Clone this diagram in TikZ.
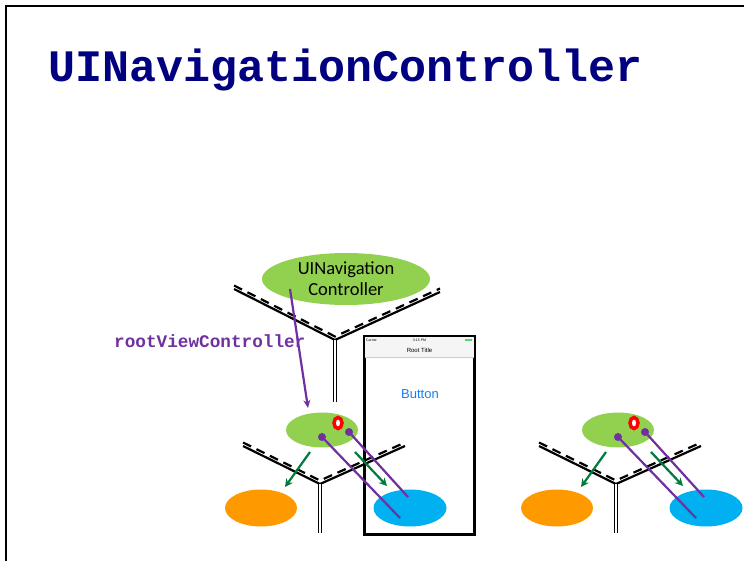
\documentclass[tikz,border=0pt]{standalone}
\usepackage{fontspec}
\setmainfont{Carlito}
\newfontfamily\codefont{Liberation Mono}
\newfontfamily\phonefont{Liberation Sans}
\usetikzlibrary{arrows.meta, shapes.geometric}

\definecolor{titleblue}{RGB}{0,0,128}
\definecolor{vcgreen}{RGB}{146,208,80}
\definecolor{vcorange}{RGB}{255,153,0}
\definecolor{vccyan}{RGB}{0,176,240}
\definecolor{vcpurple}{RGB}{112,48,160}
\definecolor{segue}{RGB}{0,122,61}
\definecolor{iosblue}{RGB}{20,126,251}
\definecolor{batgreen}{RGB}{76,217,100}

\tikzset{
    blob/.style={ellipse, inner sep=0pt, minimum width=72pt, minimum height=36pt},
    arm/.style={line width=2.2pt},
    armdash/.style={line width=2.2pt, dash pattern=on 9pt off 6pt},
    stem/.style={double, line width=1pt, double distance=2pt},
    link/.style={line width=2.2pt, draw=vcpurple},
    seguearrow/.style={line width=2.2pt, draw=segue, -{Stealth[length=8pt, width=8pt]}}
}

\begin{document}
\begin{tikzpicture}[x=1pt, y=-1pt]
\useasboundingbox (0,0) rectangle (744,561);

\draw[line width=2pt] (6,561) -- (6,6) -- (744,6);

\node (title) at (48,82) [anchor=base west, inner sep=0pt, text=titleblue,
    font=\codefont\bfseries\fontsize{45}{45}\selectfont] {UINavigationController};

% the phone
\node (phone) at (419.5,435.5) [draw, line width=3pt, fill=white, inner sep=0pt,
    minimum width=110pt, minimum height=198pt] {};
\node (navbar) at (419.5,346.5) [fill=gray!8, inner sep=0pt,
    minimum width=108.5pt, minimum height=20pt] {};
\draw[gray!40, line width=0.4pt] (navbar.south west) -- (navbar.south east);
\begin{scope}[every node/.style={inner sep=0pt, font=\phonefont\fontsize{3.5}{4}\selectfont}]
    \node (carrier) at (366,340) [anchor=west] {Carrier};
    \node (clock) at (419.5,340) {3:15 PM};
    \node (battery) at (468,340) [fill=batgreen, minimum width=7pt, minimum height=2.5pt] {};
\end{scope}
\node (roottitle) at (419.5,350) [inner sep=0pt, font=\phonefont\fontsize{6}{7}\selectfont] {Root Title};
\node (button) at (420,394) [inner sep=0pt, text=iosblue, font=\phonefont\fontsize{13}{15}\selectfont] {Button};

% navigation controller
\coordinate (navl) at (234,289);
\coordinate (navj) at (335,340);
\coordinate (navr) at (440,292);
\coordinate (navs) at (335,402);
\draw[arm] (navl) -- (navj) -- (navr);
\draw[armdash] ([yshift=3.5pt]navl) -- ([yshift=3.5pt]navj) -- ([yshift=3.5pt]navr);
\draw[stem] (navj) -- (navs);

\node (nav) at (346,279) [ellipse, fill=vcgreen, inner sep=0pt, minimum width=168pt,
    minimum height=52pt, align=center, font=\fontsize{18.5}{21}\selectfont] {UINavigation\\Controller};

\coordinate (rootsrc) at (290,289);
\coordinate (roottip) at (308,408);
\draw[link, -{Stealth[length=8pt, width=7pt]}] (rootsrc) -- (roottip);
\node (rootlabel) at (114,347) [anchor=base west, inner sep=0pt, text=vcpurple,
    font=\codefont\bfseries\fontsize{17.7}{18}\selectfont] {rootViewController};

% view controllers
\foreach \i/\dx in {1/0, 2/296} {
\begin{scope}[xshift=\dx]
    \coordinate (vcl\i) at (243,446);
    \coordinate (vcj\i) at (320,484);
    \coordinate (vcr\i) at (405,446);
    \coordinate (vcs\i) at (320,533);
    \draw[arm] (vcl\i) -- (vcj\i) -- (vcr\i);
    \draw[armdash] ([yshift=3.5pt]vcl\i) -- ([yshift=3.5pt]vcj\i) -- ([yshift=3.5pt]vcr\i);
    \draw[stem] (vcj\i) -- (vcs\i);

    \node (vc\i) at (322,430) [blob, fill=vcgreen, minimum height=35pt] {};
    \node (ring\i) at (338,423) [ellipse, draw=red, line width=3.5pt, fill=white,
        inner sep=0pt, minimum width=8pt, minimum height=11pt] {};
    \node (left\i) at (261,508) [blob, fill=vcorange, minimum height=37pt] {};
    \node (right\i) at (410,508) [blob, fill=vccyan, minimum width=73pt, minimum height=37pt] {};

    \coordinate (segl\i) at (310,452);
    \coordinate (segltip\i) at (285,487);
    \coordinate (segr\i) at (355,452);
    \coordinate (segrtip\i) at (387,486);
    \draw[seguearrow] (segl\i) -- (segltip\i);
    \draw[seguearrow] (segr\i) -- (segrtip\i);

    \coordinate (dota\i) at (322,437);
    \coordinate (dotb\i) at (349,432);
    \coordinate (enda\i) at (400,518);
    \coordinate (endb\i) at (408,497);
    \draw[link] (dota\i) -- (enda\i);
    \draw[link] (dotb\i) -- (endb\i);
    \fill[vcpurple] (dota\i) circle (4pt) (dotb\i) circle (4pt);
\end{scope}
}

\end{tikzpicture}
\end{document}
